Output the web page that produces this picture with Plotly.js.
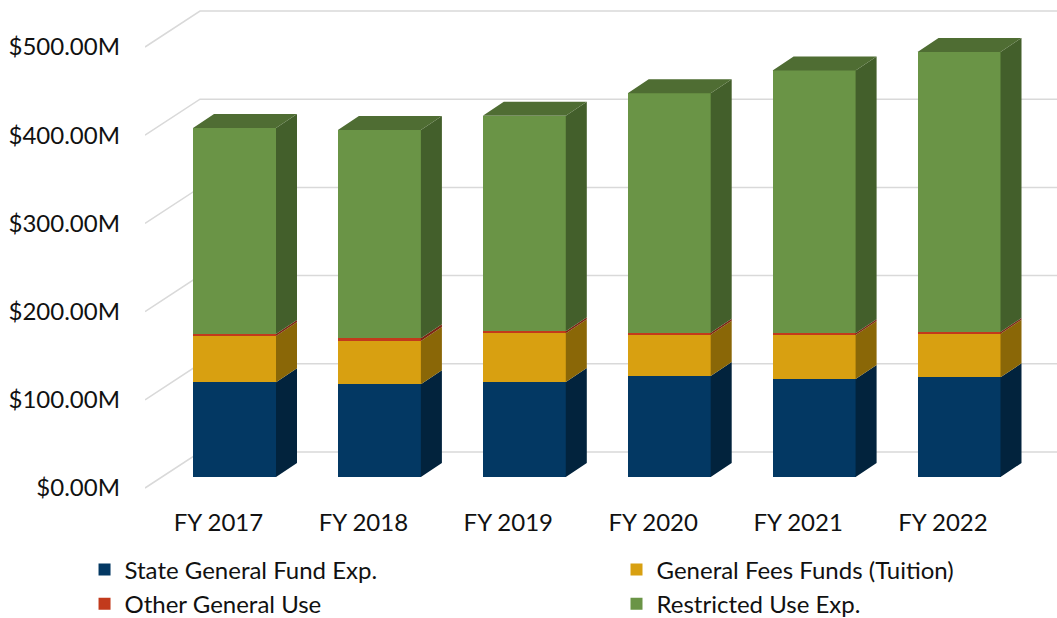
<!DOCTYPE html>
<html>
<head>
<meta charset="utf-8">
<script src="https://cdn.plot.ly/plotly-3.0.1.min.js"></script>
<style>html,body{margin:0;padding:0;background:#fff;}#chart{width:1057px;height:618px;}</style>
</head>
<body>
<div id="chart"></div>
<script>
// ---- data (values in $ millions) ----
const categories = ['FY 2017', 'FY 2018', 'FY 2019', 'FY 2020', 'FY 2021', 'FY 2022'];
const stateGeneralFund = [107.4, 105.1, 107.7, 114.5, 111.1, 113.0];
const generalFeesFunds = [52.6, 49.1, 55.2, 46.8, 49.9, 49.5];
const otherGeneralUse = [2.2, 3.1, 2.3, 2.3, 1.9, 1.9];
const restrictedUse = [233.5, 236.1, 244.4, 271.4, 298.1, 317.6];
const yTickValues = [0, 100, 200, 300, 400, 500];
const yTickLabels = ['$0.00M', '$100.00M', '$200.00M', '$300.00M', '$400.00M', '$500.00M'];
const seriesNames = ['State General Fund Exp.', 'General Fees Funds (Tuition)', 'Other General Use', 'Restricted Use Exp.'];

// ---- styling ----
const frontColors = ['#033863', '#d8a011', '#c23a1c', '#6a9446'];
const sideColors = ['#02233d', '#8a6707', '#7d2612', '#435f2b'];
const topColor = '#4f6d33';
const gridColor = '#d9d9d9';
const FONT = 'Lato, "Open Sans", sans-serif';
const FS = 24;
const legendOf = ['legend', 'legend2', 'legend', 'legend2'];   // two legend columns

// geometry (pixel based, converted through axis scales)
const W = 1057, H = 618;
const M = {l: 145, r: 0, t: 5, b: 123, autoexpand: false};
const plotW = W - M.l - M.r, plotH = H - M.t - M.b;
const catStep = 144.9;                 // px between categories
const firstCatPx = 234.5;              // bar centre px of first category
const pxPerUnit = 0.882;               // px per $1M
const barFrontZeroPx = 477;            // px of value 0 on the bar front plane
const wallFrontZeroPx = 488;           // px of value 0 at front-left edge of the grid
const labelShiftPx = 16;               // category labels sit left of bar centres
const barWpx = 83, depthDx = 21, depthDy = 14;   // bar front width & 3D depth offset
const gridDx = 55, gridDy = 36;                  // side-wall depth of the gridlines

// bar axes
const x2Range = [(M.l - firstCatPx) / catStep, (M.l + plotW - firstCatPx) / catStep];
const y2Range = [(barFrontZeroPx - (M.t + plotH)) / pxPerUnit, (barFrontZeroPx - M.t) / pxPerUnit];
// label / grid axes
const xShift = labelShiftPx / catStep;
const x1Range = [x2Range[0] + xShift, x2Range[1] + xShift];
const y1Range = [(wallFrontZeroPx - (M.t + plotH)) / pxPerUnit, (wallFrontZeroPx - M.t) / pxPerUnit];

const BAR_W = barWpx / catStep;
const DX = depthDx / catStep, DY = depthDy / pxPerUnit;
const GDX = gridDx / catStep, GDY = gridDy / pxPerUnit;

const xIdx = categories.map((_, i) => i);
const seriesValues = [stateGeneralFund, generalFeesFunds, otherGeneralUse, restrictedUse];

const traces = [];

// gridlines (bottom subplot)
const gx = [], gy = [];
yTickValues.forEach(v => {
  gx.push(x1Range[0], x1Range[0] + GDX, x1Range[1], null);
  gy.push(v, v + GDY, v + GDY, null);
});
traces.push({type: 'scatter', mode: 'lines', x: gx, y: gy, xaxis: 'x', yaxis: 'y',
  line: {color: gridColor, width: 1.5}, hoverinfo: 'skip', showlegend: false, cliponaxis: false});

// front faces
seriesValues.forEach((vals, s) => {
  traces.push({type: 'bar', name: seriesNames[s], x: xIdx, y: vals, width: BAR_W,
    xaxis: 'x2', yaxis: 'y2', marker: {color: frontColors[s], line: {width: 0}},
    legend: legendOf[s], legendgroup: 'g' + s,
    hovertemplate: '%{y:.1f}M<extra>' + seriesNames[s] + '</extra>'});
});

// side faces
const base = xIdx.map(() => 0);
seriesValues.forEach((vals, s) => {
  const sx = [], sy = [];
  vals.forEach((v, i) => {
    const y0 = base[i], y1 = base[i] + v, xr = i + BAR_W / 2;
    sx.push(xr, xr + DX, xr + DX, xr, xr, null);
    sy.push(y0, y0 + DY, y1 + DY, y1, y0, null);
    base[i] = y1;
  });
  traces.push({type: 'scatter', mode: 'lines', x: sx, y: sy, xaxis: 'x2', yaxis: 'y2',
    fill: 'toself', fillcolor: sideColors[s], line: {width: 0, color: sideColors[s]},
    hoverinfo: 'skip', showlegend: false});
});

// top faces
const tx = [], ty = [];
base.forEach((T, i) => {
  const xl = i - BAR_W / 2, xr = i + BAR_W / 2;
  tx.push(xl, xl + DX, xr + DX, xr, xl, null);
  ty.push(T, T + DY, T + DY, T, T, null);
});
traces.push({type: 'scatter', mode: 'lines', x: tx, y: ty, xaxis: 'x2', yaxis: 'y2',
  fill: 'toself', fillcolor: topColor, line: {width: 0, color: topColor},
  hoverinfo: 'skip', showlegend: false});

const legendBase = {orientation: 'v', xanchor: 'left', yanchor: 'top', y: -0.107,
  tracegroupgap: 2, bgcolor: 'rgba(0,0,0,0)',
  font: {family: FONT, size: FS, color: '#111'}, traceorder: 'normal'};

const layout = {
  width: W, height: H,
  margin: M,
  paper_bgcolor: '#fff', plot_bgcolor: 'rgba(0,0,0,0)',
  font: {family: FONT, size: FS, color: '#111'},
  barmode: 'stack',
  showlegend: true,
  legend: Object.assign({}, legendBase, {x: -0.0663}),
  legend2: Object.assign({}, legendBase, {x: 0.517}),
  xaxis: {range: x1Range, tickmode: 'array', tickvals: xIdx, ticktext: categories,
    showgrid: false, zeroline: false, showline: false, ticks: '', ticklabelstandoff: 11,
    fixedrange: true},
  yaxis: {range: y1Range, tickmode: 'array', tickvals: yTickValues, ticktext: yTickLabels,
    showgrid: false, zeroline: false, showline: false, ticks: '',
    ticklabelstandoff: 24, fixedrange: true},
  xaxis2: {range: x2Range, overlaying: 'x', anchor: 'y2', visible: false, fixedrange: true},
  yaxis2: {range: y2Range, overlaying: 'y', anchor: 'x2', visible: false, fixedrange: true}
};

Plotly.newPlot('chart', traces, layout, {displayModeBar: false});
</script>
</body>
</html>
